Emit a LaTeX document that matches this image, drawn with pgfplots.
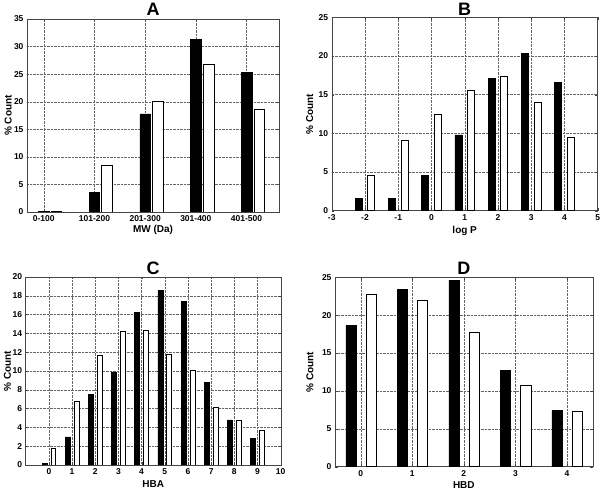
\documentclass[border=0pt]{standalone}
\usepackage{pgfplots}
\pgfplotsset{compat=1.18}
\usepackage{fontspec}
\setmainfont{Liberation Sans}
\pgfplotsset{
  every axis title/.style={at={(0.5,1)}, anchor=base, yshift=3.5pt,
    font=\bfseries\fontsize{18}{20}\selectfont},
  myaxis/.style={
    scale only axis,
    anchor=south west,
    ybar,
    axis line style={gray!55!black},
    grid=major,
    grid style={densely dotted, black!60},
    tick align=inside,
    major tick length=2.5pt,
    tick style={gray!55!black},
    ticklabel style={font=\bfseries\fontsize{8.5}{9}\selectfont},
    /pgf/number format/assume math mode=true,
    label style={font=\bfseries\fontsize{10}{12}\selectfont},
    ymin=0,
    ylabel={\% Count},
  },
  blk/.style={fill=black, draw=black, line width=0.6pt},
  wht/.style={fill=white, draw=black, line width=0.6pt},
}
\begin{document}
\begin{tikzpicture}
\useasboundingbox (0pt,0pt) rectangle (600pt,489pt);
% Panel A
\begin{axis}[myaxis, at={(27pt,277pt)}, width=252pt, height=193pt,
  title={A}, xlabel={MW (Da)},
  xmin=0.67, xmax=5.64, xtick={1,2,3,4,5},
  xticklabels={0-100,101-200,201-300,301-400,401-500},
  ymax=35, ytick={0,5,...,35}, bar width=0.21,
  xlabel style={at={(axis description cs:0.5,-0.093)}, anchor=center},
  ylabel style={at={(axis description cs:-0.075,0.5)}, anchor=center}]
\addplot[blk, bar shift=0] coordinates {(1,0.05) (2,3.5) (3,17.8) (4,31.3) (5,25.3)};
\addplot[wht, bar shift=0.25] coordinates {(1,0.2) (2,8.5) (3,20.1) (4,26.7) (5,18.7)};
\end{axis}
% Panel B
\begin{axis}[myaxis, at={(331.7pt,278.3pt)}, width=266pt, height=193.4pt,
  title={B}, title style={yshift=-1.5pt}, xlabel={log P},
  xmin=-3, xmax=5, xtick={-3,...,5},
  ymax=25, ytick={0,5,...,25}, bar width=0.21,
  xlabel style={at={(axis description cs:0.5,-0.103)}, anchor=center},
  ylabel style={at={(axis description cs:-0.083,0.5)}, anchor=center}]
\addplot[blk, bar shift=-0.19] coordinates {(-2,1.6) (-1,1.6) (0,4.6) (1,9.8) (2,17.1) (3,20.3) (4,16.6)};
\addplot[wht, bar shift=0.19] coordinates {(-2,4.6) (-1,9.1) (0,12.5) (1,15.6) (2,17.4) (3,14.0) (4,9.5)};
\end{axis}
% Panel C
\begin{axis}[myaxis, at={(25.7pt,24pt)}, width=255pt, height=188pt,
  title={C}, title style={yshift=-1.5pt}, xlabel={HBA},
  xmin=-1, xmax=10, xtick={0,...,10},
  ymax=20, ytick={0,2,...,20}, bar width=0.21,
  xlabel style={at={(axis description cs:0.5,-0.1)}, anchor=center},
  ylabel style={at={(axis description cs:-0.072,0.5)}, anchor=center}]
\addplot[blk, bar shift=-0.19] coordinates {(0,0.18) (1,2.98) (2,7.55) (3,9.9) (4,16.2) (5,18.6) (6,17.4) (7,8.8) (8,4.8) (9,2.8)};
\addplot[wht, bar shift=0.19] coordinates {(0,1.8) (1,6.8) (2,11.7) (3,14.2) (4,14.3) (5,11.8) (6,10.1) (7,6.1) (8,4.8) (9,3.7)};
\end{axis}
% Panel D
\begin{axis}[myaxis, at={(335pt,22.3pt)}, width=257.7pt, height=189.4pt,
  title={D}, title style={yshift=-0.5pt}, xlabel={HBD},
  xmin=-0.5, xmax=4.5, xtick={0,...,4},
  ymax=25, ytick={0,5,...,25}, bar width=0.2,
  xlabel style={at={(axis description cs:0.5,-0.095)}, anchor=center},
  ylabel style={at={(axis description cs:-0.097,0.5)}, anchor=center}]
\addplot[blk, bar shift=-0.19] coordinates {(0,18.6) (1,23.4) (2,24.6) (3,12.7) (4,7.4)};
\addplot[wht, bar shift=0.2] coordinates {(0,22.7) (1,22.0) (2,17.7) (3,10.8) (4,7.3)};
\end{axis}
\end{tikzpicture}
\end{document}
